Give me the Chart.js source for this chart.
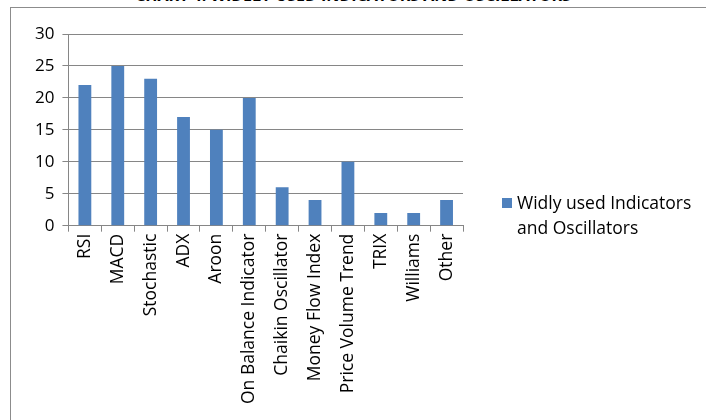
<!DOCTYPE html>
<html>
<head>
<meta charset="utf-8">
<script src="https://cdn.jsdelivr.net/npm/chart.js@4"></script>
<style>
  html, body { margin: 0; padding: 0; background: #fff; overflow: hidden; }
  #wrap { position: relative; width: 706px; height: 420px; }
  #frame { position: absolute; left: 10px; top: 7px; width: 720px; height: 440px; border: 1px solid #8c8c8c; box-sizing: border-box; }
  #title { position: absolute; left: 0; width: 706px; top: -16px; text-align: center; font: bold 16px "Open Sans", sans-serif; color: #000; white-space: nowrap; }
  #legend { position: absolute; left: 502px; top: 190px; font: 17.5px "Open Sans", sans-serif; color: #000; line-height: 25px; }
  #legend .box { position: absolute; left: 0; top: 8px; width: 10px; height: 10px; background: #4F81BD; }
  #legend .txt { margin-left: 15px; }
  canvas { position: absolute; left: 0; top: 0; }
</style>
</head>
<body>
<div id="wrap">
  <div id="frame"></div>
  <div id="title">CHART 4: WIDELY USED INDICATORS AND OSCILLATORS</div>
  <canvas id="chart" width="706" height="420"></canvas>
  <div id="legend"><span class="box"></span><div class="txt">Widly used Indicators<br>and Oscillators</div></div>
</div>
<script>
/* --------------- Data --------------------- */
const categories = [
  "RSI", "MACD", "Stochastic", "ADX", "Aroon", "On Balance Indicator",
  "Chaikin Oscillator", "Money Flow Index", "Price Volume Trend", "TRIX", "Williams", "Other"
];
const seriesName = "Widly used Indicators and Oscillators";
const values = [22, 25, 23, 17, 15, 20, 6, 4, 10, 2, 2, 4];
const yTicks = [0, 5, 10, 15, 20, 25, 30];

/* --------------- Chart --------------------- */
const axisColor = "#868686";
const fontFamily = '"Open Sans", sans-serif';

new Chart(document.getElementById("chart"), {
  type: "bar",
  data: {
    labels: categories,
    datasets: [{
      label: seriesName,
      data: values,
      backgroundColor: "#4F81BD",
      barPercentage: 0.39,
      categoryPercentage: 1
    }]
  },
  options: {
    responsive: false,
    animation: false,
    layout: { padding: { left: 27, right: 243, top: 34, bottom: 14 } },
    plugins: {
      legend: { display: false },
      tooltip: { enabled: false }
    },
    scales: {
      x: {
        offset: true,
        grid: {
          offset: true,
          drawOnChartArea: false,
          color: axisColor,
          tickLength: 6
        },
        border: { color: axisColor, width: 1 },
        ticks: {
          color: "#000",
          font: { family: fontFamily, size: 17.5 },
          minRotation: 90,
          maxRotation: 90,
          autoSkip: false,
          padding: 2
        }
      },
      y: {
        min: 0,
        max: 30,
        afterBuildTicks: (axis) => { axis.ticks = yTicks.map(v => ({ value: v })); },
        grid: { color: axisColor, tickLength: 6 },
        border: { color: axisColor, width: 1 },
        ticks: {
          color: "#000",
          font: { family: fontFamily, size: 17 },
          padding: 8
        }
      }
    }
  }
});
</script>
</body>
</html>
